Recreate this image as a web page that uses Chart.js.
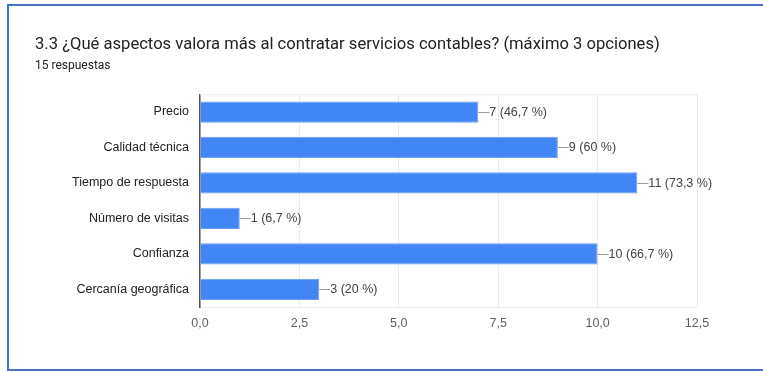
<!DOCTYPE html>
<html>
<head>
<meta charset="utf-8">
<script src="https://cdn.jsdelivr.net/npm/chart.js@4/dist/chart.umd.min.js"></script>
<style>
    html, body { margin: 0; padding: 0; background: #fff; overflow: hidden; }
    #wrap { position: relative; width: 763px; height: 371px; }
    #frame {
        position: absolute; left: 7px; top: 4px; width: 800px; height: 363px;
        border-left: 2px solid #4472c4; border-top: 2px solid #4472c4; border-bottom: 2px solid #4472c4;
    }
    canvas { position: absolute; left: 0; top: 0; }
</style>
</head>
<body>
<div id="wrap">
    <div id="frame"></div>
    <canvas id="aspectosChart" width="763" height="371"></canvas>
</div>
<script>
const preguntaTitulo = '3.3 ¿Qué aspectos valora más al contratar servicios contables? (máximo 3 opciones)';
const totalRespuestas = 15;
const aspectos = ['Precio', 'Calidad técnica', 'Tiempo de respuesta', 'Número de visitas', 'Confianza', 'Cercanía geográfica'];
const votos = [7, 9, 11, 1, 10, 3];

const fuenteEjes = '"Liberation Sans", Arial, sans-serif';

function formatoComa(v, dec) {
    return v.toFixed(dec).replace('.', ',');
}

function etiquetaVoto(v) {
    let pct = Math.round(v / totalRespuestas * 1000) / 10;
    let txt = (pct % 1 === 0) ? String(pct) : formatoComa(pct, 1);
    return v + ' (' + txt + ' %)';
}

// borde claro arriba del área del gráfico
const marcoArea = {
    id: 'marcoArea',
    beforeDatasetsDraw(chart) {
        const { ctx, chartArea: a } = chart;
        ctx.save();
        ctx.strokeStyle = '#ececec';
        ctx.lineWidth = 1;
        ctx.beginPath();
        ctx.moveTo(a.left, a.top + 0.5);
        ctx.lineTo(a.right, a.top + 0.5);
        ctx.stroke();
        ctx.restore();
    }
};

// línea guía + texto "n (x %)" al final de cada barra
const etiquetasBarras = {
    id: 'etiquetasBarras',
    afterDatasetsDraw(chart) {
        const { ctx } = chart;
        const meta = chart.getDatasetMeta(0);
        ctx.save();
        ctx.font = '12.5px ' + fuenteEjes;
        ctx.textBaseline = 'middle';
        meta.data.forEach((bar, i) => {
            const x = bar.x;
            const y = Math.round(bar.y) + 0.5;
            ctx.strokeStyle = '#9e9e9e';
            ctx.lineWidth = 1;
            ctx.beginPath();
            ctx.moveTo(x, y);
            ctx.lineTo(x + 11, y);
            ctx.stroke();
            ctx.fillStyle = '#424242';
            ctx.fillText(etiquetaVoto(votos[i]), x + 11, y);
        });
        ctx.restore();
    }
};

const ctx = document.getElementById('aspectosChart').getContext('2d');
new Chart(ctx, {
    type: 'bar',
    data: {
        labels: aspectos,
        datasets: [{
            data: votos,
            backgroundColor: '#4285f4',
            borderColor: '#6a9cf6',
            borderWidth: 1,
            barPercentage: 0.6,
            categoryPercentage: 1.0
        }]
    },
    plugins: [marcoArea, etiquetasBarras],
    options: {
        indexAxis: 'y',
        responsive: false,
        animation: false,
        layout: { padding: { left: 35, right: 66, top: 0, bottom: 31 } },
        plugins: {
            legend: { display: false },
            tooltip: { enabled: false },
            title: {
                display: true,
                text: preguntaTitulo,
                align: 'start',
                color: '#202124',
                font: { family: 'Roboto', size: 16.6, weight: 'normal' },
                padding: { top: 35, bottom: 4 }
            },
            subtitle: {
                display: true,
                text: totalRespuestas + ' respuestas',
                align: 'start',
                color: '#202124',
                font: { family: 'Roboto', size: 12, weight: 'normal' },
                padding: { top: 0, bottom: 21 }
            }
        },
        scales: {
            x: {
                min: 0,
                max: 12.5,
                ticks: {
                    stepSize: 2.5,
                    color: '#5f5f5f',
                    padding: 9,
                    font: { family: fuenteEjes, size: 12.5 },
                    callback: (v) => formatoComa(v, 1)
                },
                grid: { color: '#ececec', drawTicks: false },
                border: { display: true, color: '#ececec' }
            },
            y: {
                ticks: {
                    color: '#222222',
                    padding: 11,
                    font: { family: fuenteEjes, size: 12.5 }
                },
                grid: { display: false, drawTicks: false },
                border: { display: true, color: '#555555', width: 1.5 },
                afterFit(scale) { scale.width = 165; }
            }
        }
    }
});
</script>
</body>
</html>
